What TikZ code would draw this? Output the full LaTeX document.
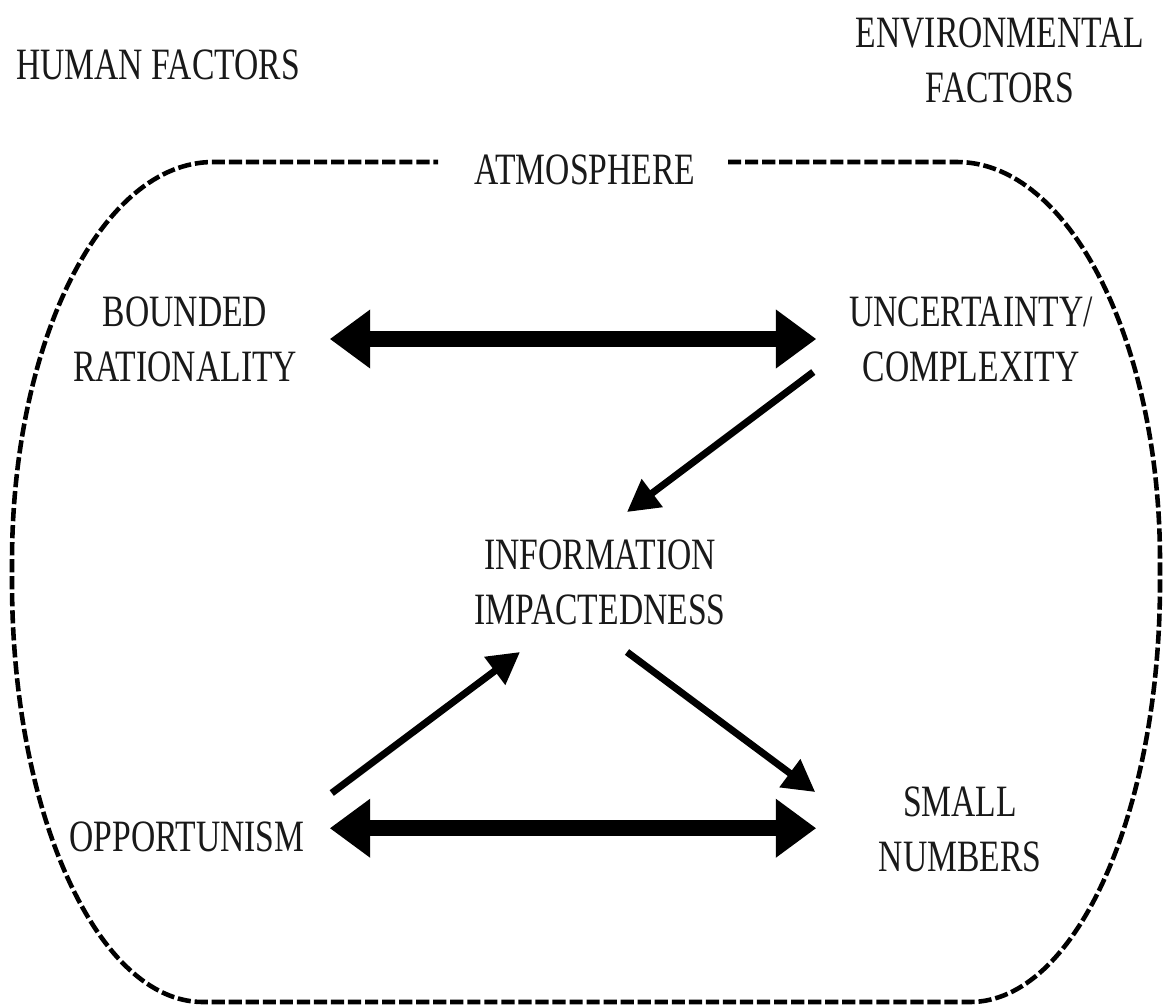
\documentclass[tikz,border=0pt]{standalone}
\usepackage{fontspec}
\setmainfont{Liberation Serif}[FakeStretch=0.75]
\usetikzlibrary{arrows.meta}
\begin{document}
\begin{tikzpicture}[x=0.02cm, y=-0.02cm,
  lbl/.style={align=center, inner sep=0pt, text=black!90,
    font=\fontsize{25.5pt}{31.2pt}\selectfont},
  border/.style={line width=2.6pt, dash pattern=on 7.5pt off 2.2pt},
  dbl/.style={line width=9pt,
    {Triangle[length=23pt,width=32pt]}-{Triangle[length=23pt,width=32pt]}},
  arr/.style={line width=4pt, -{Triangle[length=18pt,width=19pt]}}]

\useasboundingbox (0,0) rectangle (1168,1005);
\fill[white] (0,0) rectangle (1168,1005);

% headings
\node[lbl] (hf)  at (158,65)   {HUMAN FACTORS};
\node[lbl] (ef)  at (1000,60)  {ENVIRONMENTAL\\FACTORS};
\node[lbl] (atm) at (585,170)  {ATMOSPHERE};

% factors inside the atmosphere
\node[lbl, text width=164.4pt] (br) at (185,339) {BOUNDED\\RATIONALITY};
\node[lbl, text width=175.7pt] (uc) at (971,339) {UNCERTAINTY/\\COMPLEXITY};
\node[lbl] (info) at (600,582) {INFORMATION\\IMPACTEDNESS};
\node[lbl, text width=162.1pt] (opp) at (187,837) {OPPORTUNISM};
\node[lbl, text width=163.3pt] (sn) at (960,829) {SMALL\\NUMBERS};

% dashed atmosphere boundary, open where the title sits
\draw[border] (728,162) -- (957,162)
  .. controls (1069,162) and (1160,341) .. (1160,562) -- (1160,582)
  .. controls (1160,814) and (1075,1002) .. (970,1002) -- (203,1002)
  .. controls (98,1002) and (12,814) .. (12,582) -- (12,562)
  .. controls (12,341) and (102,162) .. (213,162) -- (438,162);

% two-way relations
\draw[dbl] (br.east) -- (uc.west);
\draw[dbl] ([yshift=5pt]opp.east) -- ([yshift=5pt]opp.east -| sn.west);

% one-way relations
\draw[arr] ([shift={(-3,33)}]uc.west) -- ([shift={(27,-70)}]info.center);
\draw[arr] ([shift={(2,-44)}]opp.east) -- ([shift={(-80,70)}]info.center);
\draw[arr] ([shift={(27,70)}]info.center) -- ([shift={(-1,-37)}]sn.west);
\end{tikzpicture}
\end{document}
